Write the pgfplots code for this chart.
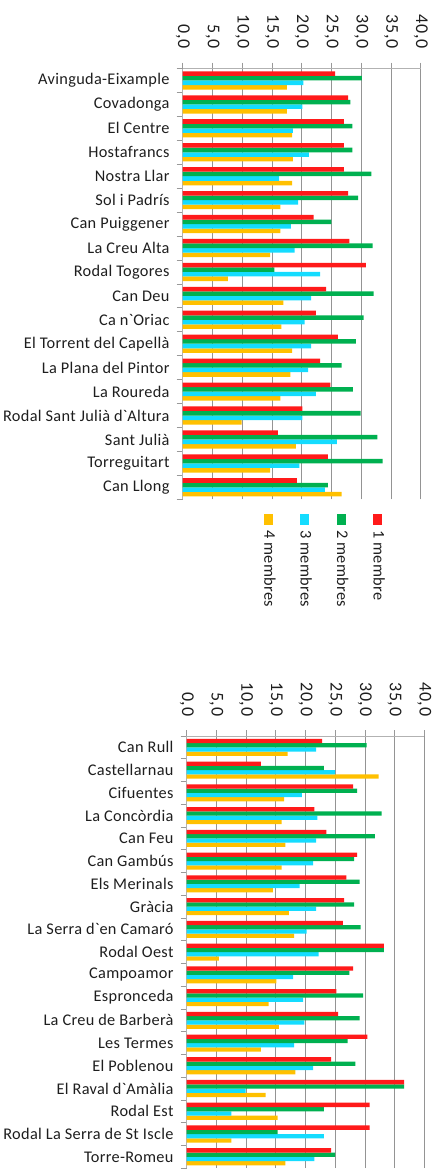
\documentclass[border=0pt]{standalone}
\usepackage{fontspec}
\setmainfont{Carlito}
\newfontfamily\tickfont{Carlito}[LetterSpace=4]
\newfontfamily\labfont{Carlito}[LetterSpace=2]
\usepackage{graphicx}
\usepackage{pgfplots}
\usepackage{pgfplotstable}
\pgfplotsset{compat=1.18}
\definecolor{cRed}{HTML}{FF1A1A}
\definecolor{cGreen}{HTML}{00B050}
\definecolor{cCyan}{HTML}{14DCFF}
\definecolor{cYellow}{HTML}{FFC000}
\definecolor{txt}{HTML}{1E1E1E}
\newcommand\fs{\labfont\fontsize{16.3bp}{19bp}\selectfont}
\newcommand\fx{\tickfont\fontsize{18bp}{21bp}\selectfont}
\newcommand\gr{\textasciigrave}
\newcommand\legent[2]{\rotatebox{-90}{\makebox[96bp][l]{\rule[-4bp]{0pt}{16bp}\textcolor{#1}{\rule[-0.5bp]{11bp}{9bp}}\hspace{5bp}#2}}}

\pgfplotstableread{
y red green cyan yellow
17 25.6 30.1 20.3 17.5
16 27.8 28.2 20.1 17.5
15 27.1 28.5 18.5 18.4
14 27.1 28.5 21.2 18.5
13 27.1 31.7 16.2 18.4
12 27.8 29.5 19.4 16.4
11 22.0 25.0 18.2 16.4
10 28.0 31.9 18.8 14.7
9 30.8 15.4 23.1 7.6
8 24.1 32.1 21.6 16.9
7 22.4 30.4 20.5 16.6
6 26.1 29.1 21.6 18.4
5 23.1 26.7 21.1 18.1
4 24.8 28.6 22.4 16.4
3 20.1 29.9 20.1 9.9
2 16.0 32.7 25.9 19.0
1 24.4 33.6 19.6 14.7
0 19.2 24.4 23.9 26.7
}\topdata

\pgfplotstableread{
y red green cyan yellow
18 22.8 30.3 21.8 17.0
17 12.5 23.1 25.0 32.3
16 28.0 28.7 19.4 16.4
15 21.5 32.8 22.0 16.0
14 23.5 31.7 21.8 16.6
13 28.7 28.2 21.3 16.0
12 26.9 29.1 19.0 14.5
11 26.5 28.2 21.8 17.2
10 26.3 29.3 20.2 18.1
9 33.2 33.2 22.2 5.4
8 28.0 27.4 17.9 15.1
7 25.2 29.7 19.6 13.8
6 25.5 29.1 19.8 15.5
5 30.4 27.1 18.1 12.5
4 24.3 28.4 21.3 18.3
3 36.6 36.6 9.9 13.3
2 30.8 23.1 7.5 15.3
1 30.8 15.3 23.1 7.5
0 24.3 25.0 21.5 16.6
}\botdata

\pgfplotsset{
  barchart/.style={
    xbar=0pt, scale only axis,
    xmin=0, xmax=40, xtick={0,5,...,40},
    xticklabels={{0,0},{5,0},{10,0},{15,0},{20,0},{25,0},{30,0},{35,0},{40,0}},
    axis x line*=top, axis y line*=left,
    axis line style={black!30, line width=0.8pt},
    xmajorgrids, ymajorgrids=false,
    grid style={black!42, line width=0.8pt},
    tick align=outside,
    tick style={black!40, line width=0.8pt},
    major tick length=6bp, minor tick length=6bp,
    major y tick style={draw=none},
    ytick={0,...,#1},
    minor ytick={-0.5,0.5,...,#1.5},
    ymin=-0.5, ymax=#1.5,
    tick label style={text=txt},
    yticklabel style={font=\fs, inner sep=0pt, xshift=-7bp},
    xticklabel style={font=\fx, rotate=-90, anchor=east, inner sep=0pt},
    xticklabel shift=13.5bp,
    every axis plot/.append style={draw=none},
  }
}

\begin{document}
\begin{tikzpicture}
\useasboundingbox (0,0) rectangle (440bp,-1169bp);
\begin{axis}[barchart=17,
  at={(182.7bp,-68.5bp)}, anchor=north west,
  width=238bp, height=430.8bp, bar width=4.55bp,
  yticklabels={Can Llong,Torreguitart,Sant Julià,Rodal Sant Julià d\gr Altura,La Roureda,La Plana del Pintor,El Torrent del Capellà,Ca n\gr Oriac,Can Deu,Rodal Togores,La Creu Alta,Can Puiggener,Sol i Padrís,Nostra Llar,Hostafrancs,El Centre,Covadonga,Avinguda-Eixample},
  legend columns=4,
  legend image code/.code={},
  legend cell align=left,
  legend style={draw=none, fill=none, at={(0.5895,-0.036)}, anchor=center,
    font=\fs, text=txt, inner sep=0pt, column sep=0pt,
    nodes={inner sep=0pt},
    /tikz/every even column/.append style={column sep=20.5bp}},
]
\addplot[fill=cYellow] table[x=yellow,y=y]{\topdata};
\addplot[fill=cCyan] table[x=cyan,y=y]{\topdata};
\addplot[fill=cGreen] table[x=green,y=y]{\topdata};
\addplot[fill=cRed] table[x=red,y=y]{\topdata};
\legend{\legent{cYellow}{4 membres},\legent{cCyan}{3 membres},\legent{cGreen}{2 membres},\legent{cRed}{1 membre}}
\end{axis}

\begin{axis}[barchart=18,
  at={(186.7bp,-736bp)}, anchor=north west,
  width=237.6bp, height=432.2bp, bar width=4.3bp,
  yticklabels={Torre-Romeu,Rodal La Serra de St Iscle,Rodal Est,El Raval d\gr Amàlia,El Poblenou,Les Termes,La Creu de Barberà,Espronceda,Campoamor,Rodal Oest,La Serra d\gr en Camaró,Gràcia,Els Merinals,Can Gambús,Can Feu,La Concòrdia,Cifuentes,Castellarnau,Can Rull},
]
\addplot[fill=cYellow] table[x=yellow,y=y]{\botdata};
\addplot[fill=cCyan] table[x=cyan,y=y]{\botdata};
\addplot[fill=cGreen] table[x=green,y=y]{\botdata};
\addplot[fill=cRed] table[x=red,y=y]{\botdata};
\end{axis}
\end{tikzpicture}
\end{document}
